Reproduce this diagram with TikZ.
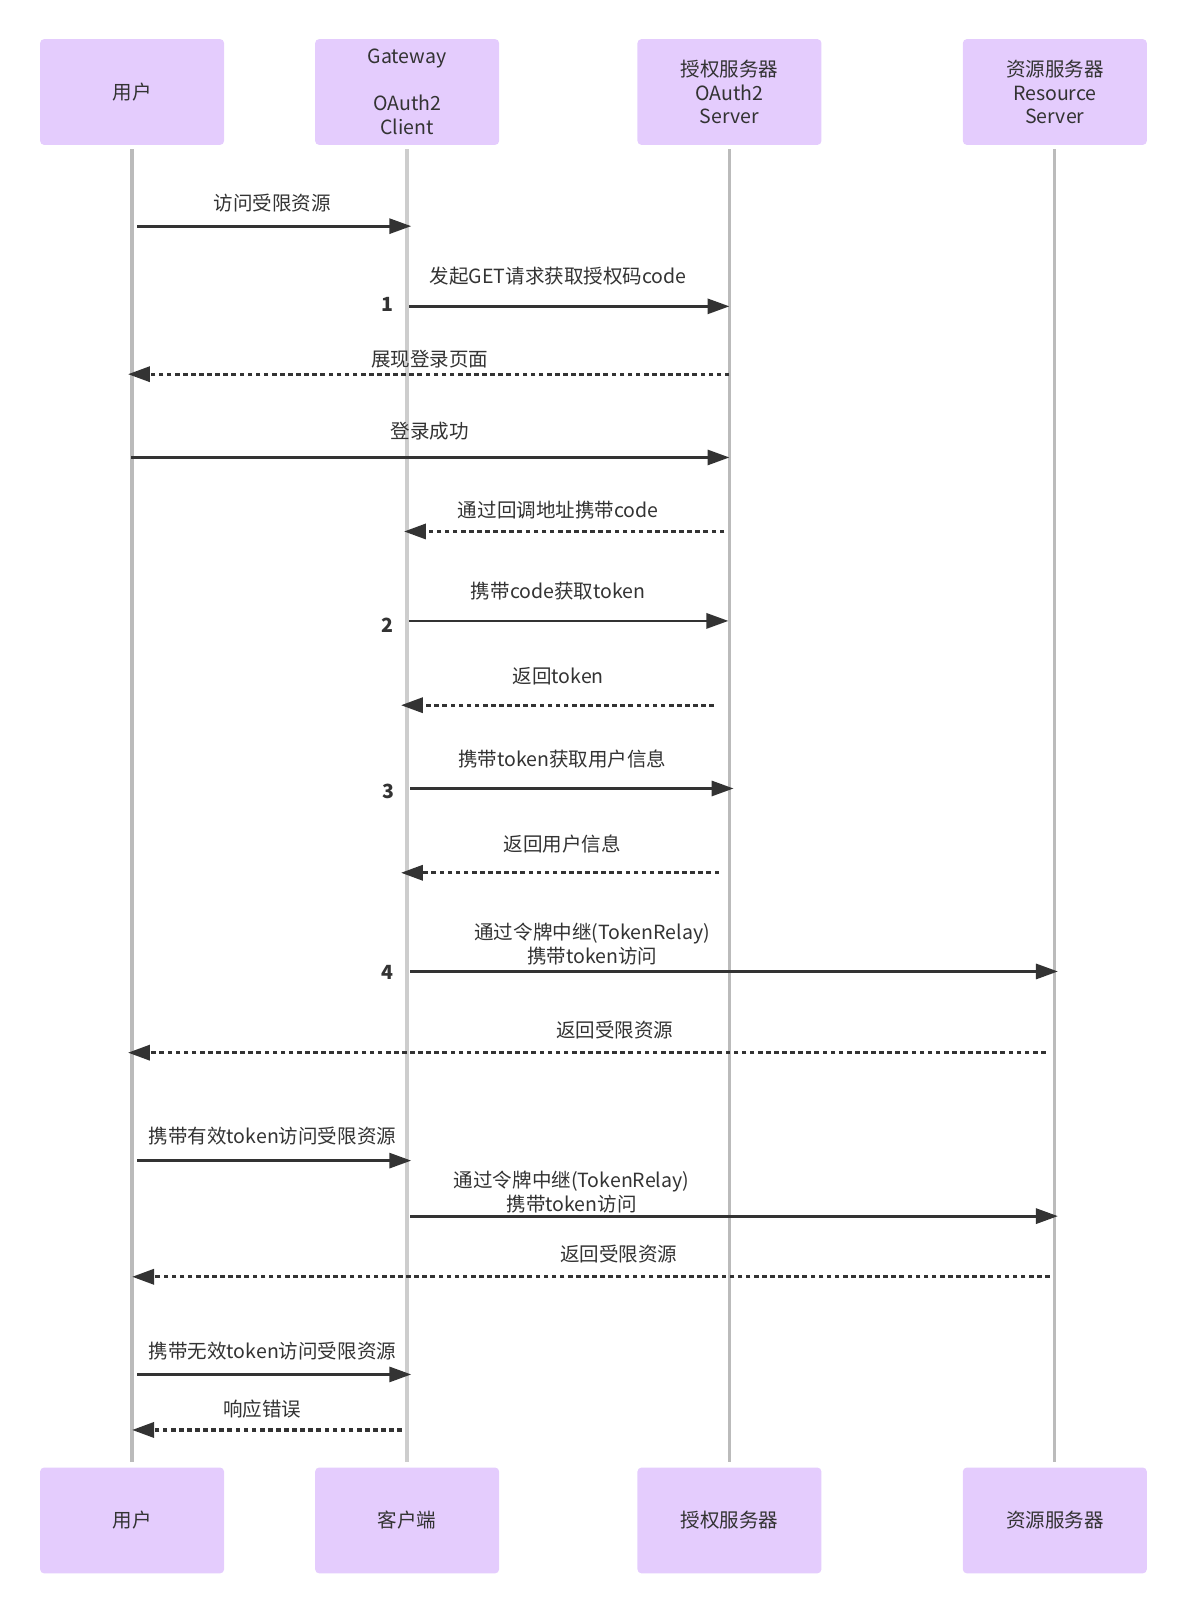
\documentclass[tikz,border=0pt]{standalone}
\usepackage{fontspec}
\setmainfont{Noto Sans CJK SC}
\usetikzlibrary{arrows.meta}
\usetikzlibrary{calc}
\usetikzlibrary{positioning}
\definecolor{boxfill}{HTML}{E4CCFD}
\definecolor{ink}{HTML}{333333}
\definecolor{lifegray}{HTML}{BBBBBB}
\definecolor{lifelight}{HTML}{CDCDCD}

\begin{document}
\begin{tikzpicture}[x=0.75pt, y=-0.75pt, >={Triangle[length=16pt,width=11pt]}]
    \fontsize{14.25pt}{17.25pt}\selectfont

    \tikzstyle{actor} = [rectangle, rounded corners=3pt, fill=boxfill, text=ink, minimum width=134.25pt, minimum height=77.25pt, align=center, inner sep=0pt]
    \tikzstyle{lbl} = [text=ink, inner sep=0pt, align=center]
    \tikzstyle{num} = [text=ink, inner sep=0pt, font=\bfseries]
    \tikzstyle{life} = [lifegray, line width=2.4pt]
    \tikzstyle{msg} = [->, ink, line width=2pt]
    \tikzstyle{reply} = [->, ink, line width=2.3pt, dash pattern=on 3.4pt off 2.5pt]

    \useasboundingbox (0,0) rectangle (1151.8,1568.1);

    % Participants on top %%%%%%%%%%%%%%%%%%%%%%%%%%%%%%%%%%%%%%%%%%%%%%%%%%%%%%%%%%%%%%%%
    \node[actor] (uTop) at (128.5,89.5) {用户};
    \node[actor, right=66pt of uTop] (gTop) {Gateway\\[17.25pt]OAuth2\\Client};
    \node[actor, right=100.5pt of gTop] (aTop) {授权服务器\\OAuth2\\Server};
    \node[actor, right=102.75pt of aTop] (rTop) {资源服务器\\Resource\\Server};

    % Participants at the bottom %%%%%%%%%%%%%%%%%%%%%%%%%%%%%%%%%%%%%%%%%%%%%%%%%%%%%%%%%
    \node[actor, below=964.5pt of uTop] (uBot) {用户};
    \node[actor, below=964.5pt of gTop] (gBot) {客户端};
    \node[actor, below=964.5pt of aTop] (aBot) {授权服务器};
    \node[actor, below=964.5pt of rTop] (rBot) {资源服务器};

    % Lifelines %%%%%%%%%%%%%%%%%%%%%%%%%%%%%%%%%%%%%%%%%%%%%%%%%%%%%%%%%%%%%%%%%%%%%%%%%%
    \draw [life]            ($(uTop.south)+(0,4)$) -- ($(uBot.north)+(0,-5)$);
    \draw [life, lifelight] ($(gTop.south)+(0,4)$) -- ($(gBot.north)+(0,-5)$);
    \draw [life]            ($(aTop.south)+(0,4)$) -- ($(aBot.north)+(0,-5)$);
    \draw [life]            ($(rTop.south)+(0,4)$) -- ($(rBot.north)+(0,-5)$);

    % Messages %%%%%%%%%%%%%%%%%%%%%%%%%%%%%%%%%%%%%%%%%%%%%%%%%%%%%%%%%%%%%%%%%%%%%%%%%%%
    \draw [msg]   ($(uTop |- 0,220)+(5,0)$)   -- ($(gTop |- 0,220)+(4,0)$);
    \node [lbl] at (265,198) {访问受限资源};

    \draw [msg]   ($(gTop |- 0,298)+(2,0)$)   -- (aTop |- 0,298);
    \node [lbl] at (543,269) {发起GET请求获取授权码code};
    \node [num] at (377,296) {1};

    \draw [reply] (aTop |- 0,364)             -- ($(uTop |- 0,364)+(-4,0)$);
    \node [lbl] at (418,349) {展现登录页面};

    \draw [msg]   ($(uTop |- 0,445)+(-1,0)$)  -- (aTop |- 0,445);
    \node [lbl] at (418,419) {登录成功};

    \draw [reply] ($(aTop |- 0,517)+(-5,0)$)  -- ($(gTop |- 0,517)+(-3,0)$);
    \node [lbl] at (543,496) {通过回调地址携带code};

    \draw [msg]   ($(gTop |- 0,604)+(2,0)$)   -- ($(aTop |- 0,604)+(-1,0)$);
    \node [lbl] at (543,575) {携带code获取token};
    \node [num] at (377,608) {2};

    \draw [reply] ($(aTop |- 0,686)+(-15,0)$) -- ($(gTop |- 0,686)+(-6,0)$);
    \node [lbl] at (543,658) {返回token};

    \draw [msg]   ($(gTop |- 0,767)+(3,0)$)   -- ($(aTop |- 0,767)+(4,0)$);
    \node [lbl] at (547,738) {携带token获取用户信息};
    \node [num] at (378,770) {3};

    \draw [reply] ($(aTop |- 0,849)+(-10,0)$) -- ($(gTop |- 0,849)+(-6,0)$);
    \node [lbl] at (547,821) {返回用户信息};

    \draw [msg]   ($(gTop |- 0,945)+(3,0)$)   -- ($(rTop |- 0,945)+(3,0)$);
    \node [lbl] at (576,918.5) {通过令牌中继(TokenRelay)\\携带token访问};
    \node [num] at (377,946) {4};

    \draw [reply] ($(rTop |- 0,1024)+(-9,0)$) -- ($(uTop |- 0,1024)+(-4,0)$);
    \node [lbl] at (598,1002) {返回受限资源};

    \draw [msg]   ($(uTop |- 0,1129)+(5,0)$)  -- ($(gTop |- 0,1129)+(4,0)$);
    \node [lbl] at (265,1105) {携带有效token访问受限资源};

    \draw [msg]   ($(gTop |- 0,1183)+(3,0)$)  -- ($(rTop |- 0,1183)+(3,0)$);
    \node [lbl] at (556,1159.5) {通过令牌中继(TokenRelay)\\携带token访问};

    \draw [reply] ($(rTop |- 0,1242)+(-5,0)$) -- (uTop |- 0,1242);
    \node [lbl] at (602,1220) {返回受限资源};

    \draw [msg]   ($(uTop |- 0,1337)+(5,0)$)  -- ($(gTop |- 0,1337)+(4,0)$);
    \node [lbl] at (265,1314) {携带无效token访问受限资源};

    \draw [reply] ($(gTop |- 0,1391)+(-5,0)$) -- (uTop |- 0,1391);
    \node [lbl] at (255,1371) {响应错误};

\end{tikzpicture}
\end{document}
